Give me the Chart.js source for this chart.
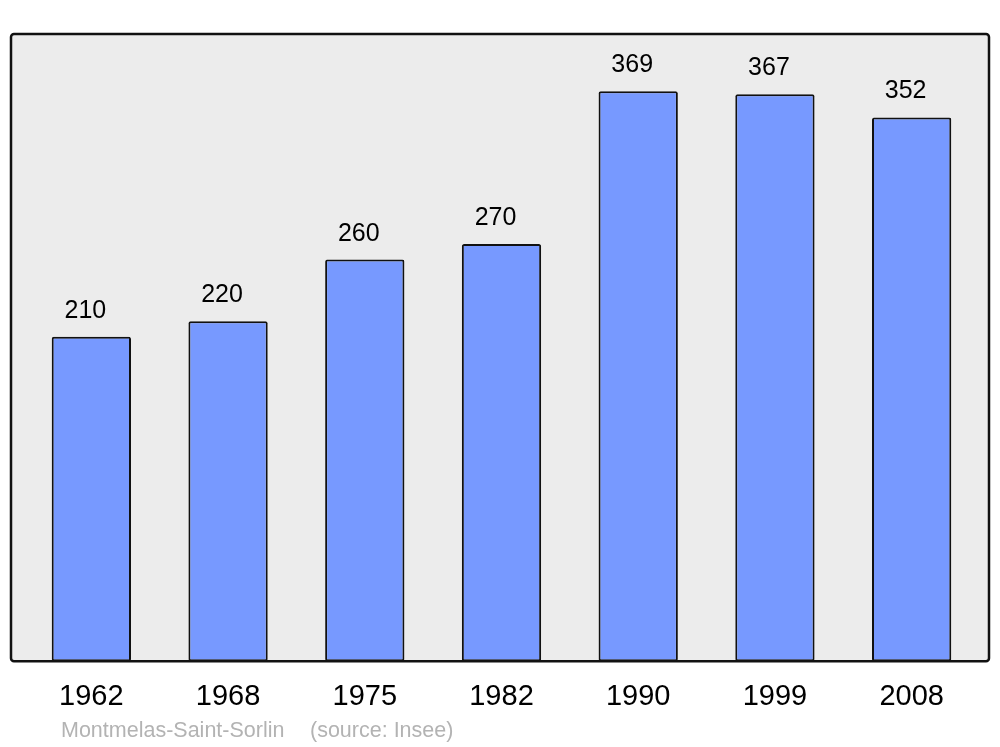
<!DOCTYPE html>
<html>
<head>
<meta charset="utf-8">
<script src="https://cdn.jsdelivr.net/npm/chart.js@4/dist/chart.umd.min.js"></script>
<style>
  html, body { margin: 0; padding: 0; background: #fff; }
  #wrap { width: 1000px; height: 747px; }
</style>
</head>
<body>
<div id="wrap"><canvas id="pop-chart" width="1000" height="747"></canvas></div>
<script>
const years = ['1962', '1968', '1975', '1982', '1990', '1999', '2008']
const population = [210, 220, 260, 270, 369, 367, 352]
const townName = 'Montmelas-Saint-Sorlin'
const sourceNote = '(source: Insee)'

// background box + frame, a bit wider than the bar area
const framePlugin = {
  id: 'frame',
  beforeDraw(chart) {
    const { ctx, chartArea } = chart
    const x0 = chartArea.left - 12
    const x1 = chartArea.right + 9
    ctx.save()
    ctx.beginPath()
    ctx.roundRect(x0, chartArea.top, x1 - x0, chartArea.bottom - chartArea.top, 3)
    ctx.fillStyle = '#ececec'
    ctx.fill()
    ctx.restore()
  },
  afterDatasetsDraw(chart) {
    const { ctx, chartArea } = chart
    const x0 = chartArea.left - 12
    const x1 = chartArea.right + 9
    ctx.save()
    ctx.beginPath()
    ctx.roundRect(x0, chartArea.top, x1 - x0, chartArea.bottom - chartArea.top, 3)
    ctx.lineWidth = 2.5
    ctx.strokeStyle = '#111'
    ctx.stroke()
    ctx.restore()
  },
}

// numbers above the bars and the caption line at the bottom
const labelsPlugin = {
  id: 'valueLabels',
  afterDraw(chart) {
    const { ctx } = chart
    const meta = chart.getDatasetMeta(0)
    ctx.save()
    ctx.font = '25px "Liberation Sans", Arial, sans-serif'
    ctx.fillStyle = '#000'
    ctx.textAlign = 'center'
    ctx.textBaseline = 'alphabetic'
    meta.data.forEach((bar, i) => {
      ctx.fillText(String(population[i]), bar.x - 6, bar.y - 19)
    })
    ctx.font = '21.5px "Liberation Sans", Arial, sans-serif'
    ctx.fillStyle = '#b3b3b3'
    ctx.textAlign = 'left'
    ctx.fillText(townName, 61, 737)
    ctx.fillText(sourceNote, 310, 737)
    ctx.restore()
  },
}

const ctx = document.getElementById('pop-chart')

new Chart(ctx, {
  type: 'bar',
  data: {
    labels: years,
    datasets: [
      {
        data: population,
        backgroundColor: '#7799ff',
        borderColor: '#111',
        borderWidth: 2,
        borderRadius: 2,
        borderSkipped: false,
        categoryPercentage: 1,
        barPercentage: 0.58,
      },
    ],
  },
  options: {
    responsive: false,
    animation: false,
    layout: {
      padding: { left: 23, right: 20, top: 34, bottom: 15 },
    },
    plugins: {
      legend: { display: false },
      tooltip: { enabled: false },
    },
    scales: {
      x: {
        grid: { display: false, drawTicks: false },
        border: { display: false },
        ticks: {
          color: '#000',
          padding: 18,
          font: { family: '"Liberation Sans", Arial, sans-serif', size: 29 },
        },
      },
      y: {
        display: false,
        min: 0,
        max: 406,
      },
    },
  },
  plugins: [framePlugin, labelsPlugin],
})
</script>
</body>
</html>
